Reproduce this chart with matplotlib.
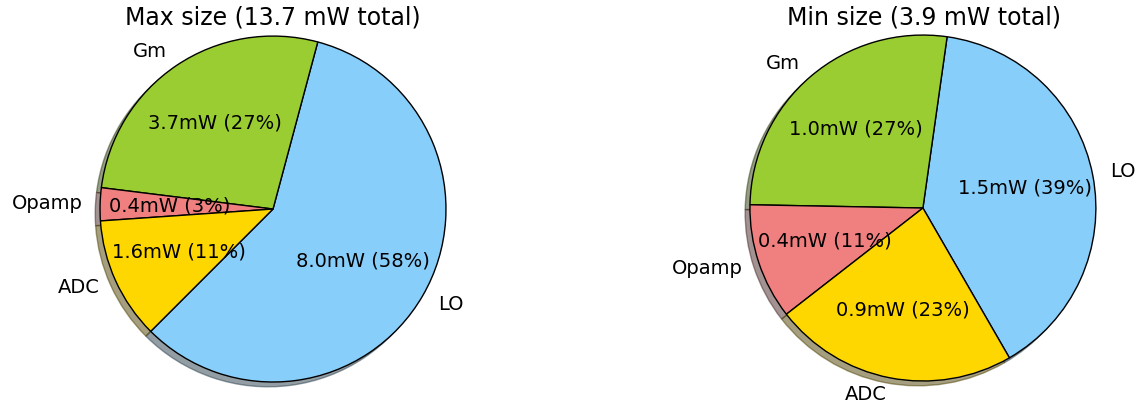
import matplotlib.pyplot as plt

# power breakdown per block, in mW
labels = ['LO', 'Gm', 'Opamp', 'ADC']
colors = ['lightskyblue', 'yellowgreen', 'lightcoral', 'gold']

max_power = [7.98, 3.72, 0.42, 1.56]
min_power = [1.53, 1.045, 0.42, 0.885]


def make_fmt(values):
    total = sum(values)

    def fmt(pct):
        return '%.1fmW (%d%%)' % (pct * total / 100.0, round(pct))
    return fmt


fig = plt.figure(figsize=(11.38, 4.03), dpi=100)

ax1 = fig.add_axes([0.0499, -0.0552, 0.380, 1.073])
ax2 = fig.add_axes([0.6210, -0.0527, 0.380, 1.073])

for ax, vals, start in [(ax1, max_power, -135), (ax2, min_power, -60)]:
    ax.pie(vals, labels=labels, colors=colors, startangle=start, shadow=True,
           autopct=make_fmt(vals), wedgeprops={'edgecolor': 'black', 'linewidth': 1},
           textprops={'fontsize': 14})
    ax.set_xlim(-1.25, 1.25)
    ax.set_ylim(-1.25, 1.25)
    ax.set_aspect('equal')

fig.text(273 / 1138, 1 - 18 / 403, 'Max size (13.7 mW total)', fontsize=17,
         ha='center', va='center')
fig.text(924 / 1138, 1 - 18 / 403, 'Min size (3.9 mW total)', fontsize=17,
         ha='center', va='center')

fig.savefig('out.png', dpi=100)
